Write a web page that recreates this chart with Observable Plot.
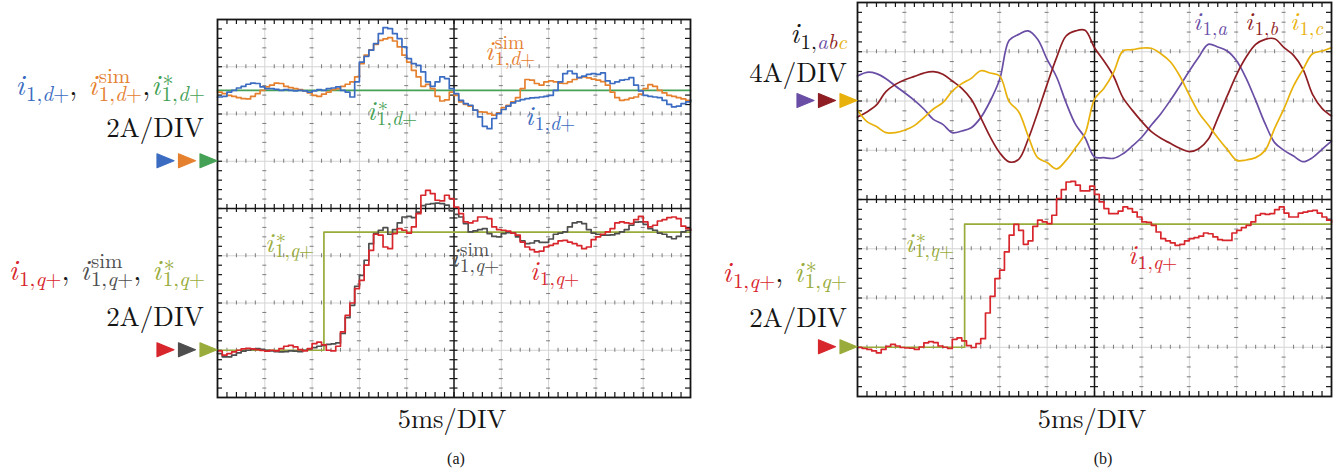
<!DOCTYPE html>
<html>
<head>
<meta charset="utf-8">
<script src="https://cdn.jsdelivr.net/npm/d3@7"></script>
<script src="https://cdn.jsdelivr.net/npm/@observablehq/plot@0.6"></script>
<style>
html, body { margin:0; padding:0; background:#fff; }
#root { position:relative; width:1334px; height:471px; overflow:hidden; }
#root > svg { position:absolute; top:0; }
</style>
</head>
<body>
<div id="root"></div>
<script>
// ================= DATA (amperes, sampled every 0.5 ms over 50 ms) =================
const sampleStepMs = 0.5;
// (a) d-axis measured current i_{1,d+}
const iD_a = [2.72,2.75,2.93,3.0,3.1,3.17,3.26,3.31,3.29,3.15,
 3.07,3.07,3.04,3.0,3.03,3.0,2.98,3.0,2.98,2.93,
 2.98,3.03,3.0,3.07,3.1,3.15,3.0,2.93,2.72,3.36,
 4.2,4.44,4.7,4.98,5.4,5.66,5.61,5.4,5.19,4.84,
 4.34,4.13,4.06,3.78,3.36,3.17,3.36,3.57,3.5,3.07,
 2.86,2.58,2.44,2.37,2.16,1.88,1.48,1.38,1.81,2.02,
 2.19,2.33,2.47,2.55,2.61,2.65,2.68,2.69,2.72,2.75,
 2.79,3.0,3.36,3.71,3.82,3.71,3.54,3.6,3.68,3.71,
 3.68,3.74,3.4,3.29,3.36,3.43,3.46,3.54,3.22,2.98,
 2.79,2.75,2.72,2.69,2.58,2.41,2.3,2.33,2.44,2.51,
 2.61];
// (a) d-axis simulated current i^sim_{1,d+}
const iDsim_a = [2.93,2.86,2.79,2.75,2.69,2.65,2.64,2.75,2.86,3.0,
 3.15,3.22,3.31,3.29,3.17,3.12,3.07,3.03,2.98,2.89,
 2.79,2.75,2.84,2.93,3.03,3.07,3.17,3.26,3.36,3.57,
 4.13,4.49,4.72,4.95,5.12,5.18,5.23,5.09,4.84,4.49,
 4.2,3.85,3.57,3.17,3.25,3.07,2.75,2.55,2.6,2.93,
 2.79,2.51,2.41,2.33,2.16,2.09,2.08,2.02,1.95,2.05,
 2.27,2.37,2.51,2.69,3.07,3.46,3.43,3.29,3.22,3.36,
 3.4,3.36,3.31,3.29,3.36,3.46,3.54,3.57,3.53,3.48,
 3.43,3.37,3.22,2.93,2.69,2.58,2.61,2.67,2.72,2.84,
 3.07,3.24,3.17,3.0,2.89,2.79,2.75,2.69,2.64,2.58,
 2.55];
// (a) q-axis measured current i_{1,q+}
const iQ_a = [-0.03,-0.21,-0.14,-0.07,0.0,0.06,0.08,0.06,0.03,-0.01,
 -0.04,0.0,-0.03,0.07,0.17,0.21,0.14,0.03,-0.03,0.07,
 0.28,0.34,0.23,0.0,-0.03,0.17,0.78,1.48,2.0,2.61,
 2.96,3.6,4.23,4.91,4.87,4.37,4.3,4.94,5.15,5.08,
 4.96,5.22,5.78,6.56,6.77,6.63,6.35,6.32,6.56,6.42,
 6.06,5.78,5.43,5.39,5.47,5.64,5.64,5.57,5.22,5.11,
 5.08,5.04,4.96,4.87,4.58,4.37,4.26,4.16,4.2,4.37,
 4.44,4.51,4.63,4.65,4.58,4.51,4.43,4.3,4.37,4.68,
 4.8,4.91,5.01,5.15,5.39,5.43,5.39,5.36,5.53,5.67,
 5.43,5.22,5.29,5.47,5.53,5.61,5.64,5.57,5.25,5.15,
 5.08];
// (a) q-axis simulated current i^sim_{1,q+}
const iQsim_a = [-0.14,-0.28,-0.28,-0.21,-0.11,-0.04,0.0,0.04,0.07,0.04,
 0.0,-0.03,-0.06,-0.07,-0.06,-0.03,-0.04,-0.06,0.0,0.06,
 0.11,0.17,0.21,0.25,0.27,0.31,0.71,1.38,1.9,2.71,
 3.17,3.81,4.51,4.94,5.08,5.19,4.91,5.11,5.39,5.64,
 5.67,5.61,5.85,6.12,6.18,6.21,6.23,6.21,6.14,5.9,
 5.75,5.64,5.36,5.01,5.05,5.11,5.15,4.94,4.82,4.8,
 4.94,4.98,4.96,4.8,4.63,4.51,4.54,4.63,4.57,4.57,
 4.71,4.91,4.96,5.01,5.22,5.39,5.43,5.36,5.11,4.96,
 4.91,4.87,4.87,4.88,4.94,5.01,5.11,5.29,5.42,5.43,
 5.33,5.15,5.08,4.96,4.91,4.8,4.72,4.82,5.01,5.08,
 5.11];
// (b) q-axis measured current i_{1,q+}
const iQ_b = [-0.01,-0.05,-0.09,-0.15,-0.23,-0.09,0.04,0.12,0.05,-0.01,
 -0.03,-0.04,-0.09,0.01,0.18,0.23,0.19,0.05,0.0,-0.05,
 0.32,0.38,0.26,0.07,-0.01,0.15,0.35,1.39,2.07,2.79,
 3.13,3.87,4.55,4.99,4.75,4.18,4.32,4.91,5.16,5.09,
 5.02,5.36,6.04,6.4,6.71,6.74,6.58,6.35,6.35,6.54,
 6.21,5.9,5.63,5.43,5.43,5.53,5.7,5.63,5.49,5.29,
 5.09,5.07,4.95,4.68,4.41,4.32,4.24,4.14,4.18,4.32,
 4.41,4.45,4.51,4.64,4.61,4.48,4.37,4.34,4.34,4.64,
 4.75,4.86,4.95,5.09,5.36,5.43,5.4,5.43,5.59,5.7,
 5.45,5.29,5.29,5.45,5.49,5.53,5.56,5.45,5.29,5.16,
 5.07];
// references
const iDref = 3;                     // A
const iQrefTimes_a = [0, 11.25, 50]; // ms
const iQrefTimes_b = [0, 11.3, 50];  // ms
const iQrefValues = [0, 5, 5];       // A
// (b) phase currents, sampled every 1 ms (A)
const abcStepMs = 1;
const iA_b = [2.03,2.33,2.22,1.81,1.22,0.65,0.05,-0.65,-1.49,-1.9,
 -2.57,-2.44,-2.17,-1.35,0.0,1.76,4.93,5.41,5.69,5.01,
 3.38,1.95,-0.14,-1.9,-2.98,-4.55,-4.6,-4.66,-4.28,-3.65,
 -2.92,-1.95,-1.03,0.05,1.22,2.44,3.57,4.6,4.39,4.06,
 3.25,1.84,0.05,-1.84,-3.38,-4.01,-4.47,-4.93,-4.6,-3.93,
 -3.25];
const iB_b = [-1.3,-0.89,-0.32,0.76,1.35,1.73,2.0,2.27,2.38,2.17,
 1.62,1.03,0.14,-1.35,-2.92,-4.2,-4.95,-4.74,-3.11,-0.95,
 1.35,3.52,5.28,5.69,5.74,4.33,3.25,2.03,0.27,-0.76,
 -1.68,-2.49,-3.03,-3.44,-3.84,-4.11,-3.87,-3.11,-1.41,0.41,
 2.17,3.57,4.6,5.01,5.06,4.33,3.71,2.57,0.54,-0.6,
 -1.22];
const iC_b = [-0.76,-1.68,-2.08,-2.57,-2.57,-2.36,-2.0,-1.35,-0.65,-0.14,
 0.81,1.41,1.84,2.46,2.27,2.03,-0.05,-0.87,-2.84,-4.6,
 -5.0,-5.52,-4.82,-3.79,-2.65,0.14,1.03,2.3,4.06,4.17,
 4.3,4.28,3.84,3.19,2.03,0.49,-0.95,-1.95,-2.98,-3.93,
 -4.82,-4.79,-4.6,-4.01,-2.22,-0.6,1.22,2.57,3.84,4.06,
 4.33];
// scope channel settings: zero-level (divisions from screen centre) and A/DIV
const chA = { d: {offset: 1, perDiv: 2}, q: {offset: -3, perDiv: 2} };
const chB = { abc: {offset: 2, perDiv: 4}, q: {offset: -3, perDiv: 2} };

// ================= STYLE =================
const COL = {blue:"#3b6cc1", orange:"#e5802f", green:"#45a156", red:"#d8262d", gray:"#4e4e4e",
  olive:"#99ac3b", purple:"#6a4ea5", darkred:"#8e1e23", yellow:"#e8b10b", ink:"#151515"};
const FONT = '"Latin Modern Roman", "Liberation Serif", serif';
const CAPFONT = '"Liberation Serif", "Times New Roman", serif';
const H = 471;
const geomA = {left:0, width:700, mL:217, mR:10, mT:19, mB:74};
const geomB = {left:700, width:634, mL:157, mR:3, mT:2, mB:75};

const times = (arr, dt) => arr.map((_, i) => i * dt);
const toDiv = (ts, vs, ch) => vs.map((v, i) => ({t: ts[i], y: ch.offset + v / ch.perDiv}));

function scope(geom, traces) {
  const pw = geom.width - geom.mL - geom.mR, ph = H - geom.mT - geom.mB;
  const kx = 50 / pw, ky = 8 / ph;
  const majX = [5,10,15,20,30,35,40,45];
  const majY = [-3,-2,-1,1,2,3];
  const allX = d3.range(1, 50);
  const minX = allX.filter(v => v % 5);
  const allY = d3.range(-19, 20).map(v => v / 5);
  const minY = allY.filter(v => Math.abs(v - Math.round(v)) > 1e-9);
  const vT = (xs, y, a, b) => xs.map(x => ({x, y1: y + a*ky, y2: y + b*ky}));
  const hT = (ys, x, a, b) => ys.map(y => ({y, x1: x + a*kx, x2: x + b*kx}));
  const gridV = majY.flatMap(y => vT(minX, y, -2, 2));
  const gridH = majX.flatMap(x => hT(minY, x, -2, 2));
  const cenV = vT(allX, 0, -4, 4);
  const cenH = hT(allY, 25, -4, 4);
  const frV = [...vT(allX, 4, -5, 0), ...vT(allX, -4, 0, 5)];
  const frH = [...hT(allY, 0, 0, 5), ...hT(allY, 50, -5, 0)];
  const tick = {stroke:"#7c7c7c", strokeWidth:1};
  const dark = {stroke:COL.ink, strokeWidth:1.2};
  const chart = Plot.plot({
    width: geom.width, height: H,
    marginLeft: geom.mL, marginRight: geom.mR, marginTop: geom.mT, marginBottom: geom.mB,
    x: {domain:[0,50], axis:null}, y: {domain:[-4,4], axis:null},
    style: {background:"transparent", overflow:"visible"},
    marks: [
      Plot.ruleX(majX, {stroke:"#d4d4d4", strokeWidth:1}),
      Plot.ruleY(majY, {stroke:"#d4d4d4", strokeWidth:1}),
      Plot.ruleX(gridV, {x:"x", y1:"y1", y2:"y2", ...tick}),
      Plot.ruleY(gridH, {y:"y", x1:"x1", x2:"x2", ...tick}),
      Plot.ruleX([25], {stroke:COL.ink, strokeWidth:1.5}),
      Plot.ruleY([0], {stroke:COL.ink, strokeWidth:1.5}),
      Plot.ruleX(cenV, {x:"x", y1:"y1", y2:"y2", ...dark}),
      Plot.ruleY(cenH, {y:"y", x1:"x1", x2:"x2", ...dark}),
      Plot.ruleX(frV, {x:"x", y1:"y1", y2:"y2", ...dark}),
      Plot.ruleY(frH, {y:"y", x1:"x1", x2:"x2", ...dark}),
      ...traces.map(tr => Plot.line(tr.data, {x:"t", y:"y", stroke:tr.color, strokeWidth:1.7, curve:tr.curve})),
      Plot.frame({stroke:COL.ink, strokeWidth:1.8})
    ]
  });
  chart.style.left = geom.left + "px";
  return chart;
}

const tA = times(iD_a, sampleStepMs);
const tB = times(iQ_b, sampleStepMs);
const tAbc = times(iA_b, abcStepMs);
const refD = [0, 50];

const chartA = scope(geomA, [
  {data: toDiv(refD, refD.map(() => iDref), chA.d), color: COL.green, curve: "linear"},
  {data: toDiv(tA, iDsim_a, chA.d), color: COL.orange, curve: "step-after"},
  {data: toDiv(tA, iD_a, chA.d), color: COL.blue, curve: "step-after"},
  {data: toDiv(iQrefTimes_a, iQrefValues, chA.q), color: COL.olive, curve: "step-after"},
  {data: toDiv(tA, iQsim_a, chA.q), color: COL.gray, curve: "step-after"},
  {data: toDiv(tA, iQ_a, chA.q), color: COL.red, curve: "step-after"}
]);
const chartB = scope(geomB, [
  {data: toDiv(tAbc, iA_b, chB.abc), color: COL.purple, curve: "catmull-rom"},
  {data: toDiv(tAbc, iB_b, chB.abc), color: COL.darkred, curve: "catmull-rom"},
  {data: toDiv(tAbc, iC_b, chB.abc), color: COL.yellow, curve: "catmull-rom"},
  {data: toDiv(iQrefTimes_b, iQrefValues, chB.q), color: COL.olive, curve: "step-after"},
  {data: toDiv(tB, iQ_b, chB.q), color: COL.red, curve: "step-after"}
]);
const root = document.getElementById("root");
root.appendChild(chartA);
root.appendChild(chartB);

// ================= OVERLAY TEXT / CHANNEL MARKERS =================
const NS = "http://www.w3.org/2000/svg";
function mk(tag, attrs, parent) {
  const e = document.createElementNS(NS, tag);
  for (const k in attrs) e.setAttribute(k, attrs[k]);
  if (parent) parent.appendChild(e);
  return e;
}
const ov = mk("svg", {width:1334, height:471}, root);
ov.style.left = "0px"; ov.style.pointerEvents = "none";

const meter = mk("text", {x:-1000, y:-1000}, ov);
meter.style.fontFamily = FONT;
function measure(str, size, italic) {
  meter.setAttribute("font-size", size);
  meter.setAttribute("font-style", italic ? "italic" : "normal");
  meter.textContent = str;
  return meter.getComputedTextLength();
}
function txt(parent, x, y, s, size, color, anchor, fam) {
  const t = mk("text", {x, y, "font-size": size, fill: color, "text-anchor": anchor || "start"}, parent);
  t.style.fontFamily = fam || FONT;
  t.textContent = s; return t;
}
// one <text> per label; each glyph run is a tspan placed at an absolute spot
function mathLabel(o) {
  const S = o.size, s = o.ss;
  const runs = [];
  let cx = 0;
  const addScript = (sub, color, x0, y0) => {
    const parts = typeof sub === "string" ? [[sub, color]] : sub;
    let x = x0;
    for (const [str, c] of parts) {
      for (const r of str.match(/[a-z]+|[^a-z]+/g)) {
        const it = /[a-z]/.test(r);
        runs.push({x, y: y0, str: r, size: s, italic: it, color: c});
        x += measure(r, s, it);
      }
    }
    return x - x0;
  };
  for (const p of o.pieces) {
    if (p.t !== undefined) {
      runs.push({x: cx, y: 0, str: p.t, size: S, italic: false, color: p.color});
      cx += p.adv !== undefined ? p.adv : measure(p.t, S, false);
      continue;
    }
    runs.push({x: cx, y: 0, str: "i", size: S, italic: true, color: p.ic || p.i});
    cx += measure("i", S, true) + 1.5;
    let w = 0;
    if (p.sub) w = Math.max(w, addScript(p.sub, p.i, cx, Math.round(S * 0.19)));
    if (p.sup) {
      const star = p.sup === "*";
      const sz = star ? s + 1 : s;
      runs.push({x: cx + (star ? 1 : 0), y: star ? -Math.round(S * 0.1) : -Math.round(S * 0.42),
        str: p.sup, size: sz, italic: false, color: p.i});
      w = Math.max(w, measure(p.sup, sz, false));
    }
    cx += w;
  }
  const shift = o.anchor === "end" ? -cx : o.anchor === "middle" ? -cx / 2 : 0;
  const t = mk("text", {x: o.x + shift, y: o.y}, ov);
  t.style.fontFamily = FONT;
  for (const r of runs) {
    const ts = mk("tspan", {x: o.x + shift + r.x, y: o.y + r.y, "font-size": r.size, fill: r.color,
      "font-style": r.italic ? "italic" : "normal"}, t);
    ts.textContent = r.str;
  }
}
function markers(chart, geom, ch, colors) {
  const yz = chart.scale("y").apply(ch.offset);
  const tipX = geom.left + geom.mL;
  colors.slice().reverse().forEach((c, k) => {
    const tx = tipX - k * 21.5;
    mk("polygon", {points: `${tx},${yz} ${tx-17},${yz-7} ${tx-17},${yz+7}`, fill: c, stroke: c,
      "stroke-width": 1.2, "stroke-linejoin": "round"}, ov);
  });
}

// --- panel (a) ---
const INK = COL.ink;
const BIG = {size:29, ss:21}, SMALL = {size:27, ss:19.5}, TOPSMALL = {size:26, ss:19};
mathLabel({x:205, y:95, anchor:"end", ...BIG, pieces:[
  {i:COL.blue, sub:"1,d+"}, {t:",", color:INK, adv:19},
  {i:COL.orange, sup:"sim", sub:"1,d+"}, {t:",", color:INK, adv:9},
  {i:COL.green, sup:"*", sub:"1,d+"}]});
txt(ov, 204, 137, "2A/DIV", 27, INK, "end");
markers(chartA, geomA, chA.d, [COL.blue, COL.orange, COL.green]);
mathLabel({x:205, y:280, anchor:"end", ...BIG, pieces:[
  {i:COL.red, sub:"1,q+"}, {t:",", color:INK, adv:19},
  {i:COL.gray, sup:"sim", sub:"1,q+"}, {t:",", color:INK, adv:19},
  {i:COL.olive, sup:"*", sub:"1,q+"}]});
txt(ov, 204, 326, "2A/DIV", 27, INK, "end");
markers(chartA, geomA, chA.q, [COL.red, COL.gray, COL.olive]);
mathLabel({x:485, y:60, ...SMALL, pieces:[{i:COL.orange, sup:"sim", sub:"1,d+"}]});
mathLabel({x:367, y:120, ...SMALL, pieces:[{i:COL.green, sup:"*", sub:"1,d+"}]});
mathLabel({x:525, y:125, ...SMALL, pieces:[{i:COL.blue, sub:"1,d+"}]});
mathLabel({x:265, y:252, ...SMALL, pieces:[{i:COL.olive, sup:"*", sub:"1,q+"}]});
mathLabel({x:450, y:267, ...SMALL, pieces:[{i:COL.gray, sup:"sim", sub:"1,q+"}]});
mathLabel({x:530, y:280, ...SMALL, pieces:[{i:COL.red, sub:"1,q+"}]});
txt(ov, 452, 428, "5ms/DIV", 26.5, INK, "middle");
txt(ov, 456, 464, "(a)", 16, INK, "middle", CAPFONT);

// --- panel (b) ---
mathLabel({x:847, y:43, anchor:"end", ...BIG, pieces:[
  {i:INK, sub:[["1,", INK], ["a", COL.purple], ["b", COL.darkred], ["c", COL.yellow]]}]});
txt(ov, 847, 82, "4A/DIV", 27, INK, "end");
markers(chartB, geomB, chB.abc, [COL.purple, COL.darkred, COL.yellow]);
mathLabel({x:847, y:282, anchor:"end", ...BIG, pieces:[
  {i:COL.red, sub:"1,q+"}, {t:",", color:INK, adv:19},
  {i:COL.olive, sup:"*", sub:"1,q+"}]});
txt(ov, 847, 327, "2A/DIV", 27, INK, "end");
markers(chartB, geomB, chB.q, [COL.red, COL.olive]);
mathLabel({x:1193, y:30, ...TOPSMALL, pieces:[{i:COL.purple, sub:"1,a"}]});
mathLabel({x:1245, y:30, ...TOPSMALL, pieces:[{i:COL.darkred, sub:"1,b"}]});
mathLabel({x:1290, y:30, ...TOPSMALL, pieces:[{i:COL.yellow, sub:"1,c"}]});
mathLabel({x:905, y:252, ...SMALL, pieces:[{i:COL.olive, sup:"*", sub:"1,q+"}]});
mathLabel({x:1128, y:264, ...SMALL, pieces:[{i:COL.red, sub:"1,q+"}]});
txt(ov, 1092, 428, "5ms/DIV", 26.5, INK, "middle");
txt(ov, 1103, 464, "(b)", 16, INK, "middle", CAPFONT);
meter.remove();
</script>
</body>
</html>
